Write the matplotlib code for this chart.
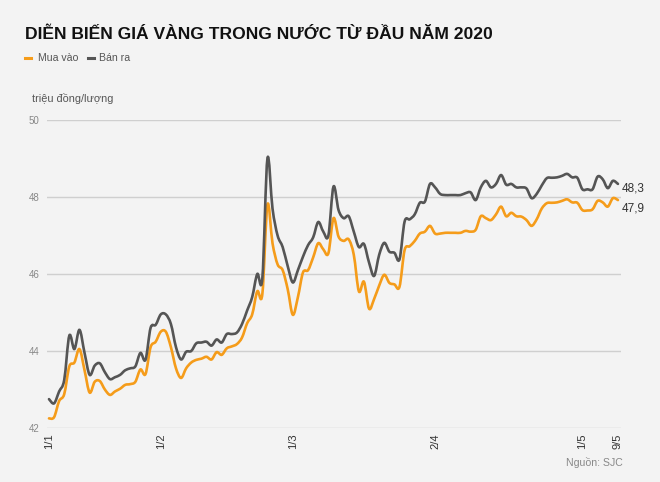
import matplotlib
matplotlib.use("Agg")
import matplotlib.pyplot as plt
from matplotlib.path import Path
from matplotlib.patches import PathPatch

plt.rcParams['font.family'] = ['Liberation Sans', 'DejaVu Sans']

tick_pos = [0, 22, 48, 76, 105, 112]
tick_labels = ["1/1", "1/2", "1/3", "2/4", "1/5", "9/5"]

ban_ra = [
    42.75, 42.64, 42.95, 43.25, 44.40, 44.05, 44.55, 43.95, 43.38, 43.62,
    43.68, 43.45, 43.27, 43.32, 43.38, 43.50, 43.55, 43.60, 43.95, 43.77,
    44.60, 44.68, 44.95, 44.95, 44.70, 44.10, 43.78, 43.98, 44.00, 44.20,
    44.22, 44.24, 44.14, 44.30, 44.22, 44.44, 44.44, 44.48, 44.70, 45.05,
    45.40, 46.00, 45.89, 49.00, 47.70, 47.00, 46.70, 46.20, 45.78, 46.10,
    46.45, 46.75, 46.95, 47.35, 47.10, 47.00, 48.27, 47.66, 47.45, 47.50,
    47.10, 46.70, 46.78, 46.30, 45.95, 46.50, 46.81, 46.58, 46.55, 46.38,
    47.36, 47.42, 47.55, 47.85, 47.88, 48.34, 48.25, 48.08, 48.05, 48.05,
    48.05, 48.05, 48.10, 48.12, 47.92, 48.25, 48.42, 48.25, 48.34, 48.57,
    48.32, 48.34, 48.25, 48.25, 48.22, 47.97, 48.08, 48.30, 48.49, 48.50,
    48.51, 48.55, 48.60, 48.51, 48.50, 48.20, 48.20, 48.20, 48.53, 48.46,
    48.23, 48.42, 48.34,
]

mua_vao = [
    42.25, 42.28, 42.70, 42.88, 43.60, 43.70, 44.05, 43.50, 42.92, 43.20,
    43.22, 43.00, 42.86, 42.95, 43.02, 43.12, 43.14, 43.20, 43.52, 43.40,
    44.10, 44.24, 44.50, 44.50, 44.10, 43.55, 43.30, 43.55, 43.70, 43.77,
    43.80, 43.85, 43.78, 43.97, 43.90, 44.07, 44.12, 44.18, 44.35, 44.72,
    44.95, 45.55, 45.48, 47.80, 46.80, 46.25, 46.10, 45.60, 44.94, 45.40,
    46.04, 46.10, 46.43, 46.80, 46.64, 46.54, 47.45, 46.97, 46.86, 46.90,
    46.50, 45.55, 45.80, 45.10, 45.35, 45.70, 45.98, 45.77, 45.73, 45.67,
    46.62, 46.72, 46.86, 47.05, 47.10, 47.25, 47.05, 47.05, 47.07, 47.07,
    47.07, 47.07, 47.12, 47.10, 47.15, 47.50, 47.45, 47.40, 47.55, 47.75,
    47.50, 47.59, 47.50, 47.49, 47.40, 47.25, 47.42, 47.70, 47.84, 47.85,
    47.86, 47.90, 47.94, 47.86, 47.85, 47.66, 47.65, 47.68, 47.90, 47.86,
    47.75, 47.97, 47.92,
]

y_ticks = [42, 44, 46, 48, 50]

W, H = 660, 482
BG = "#f3f3f3"
ORANGE = "#f59c1a"
GRAY = "#555555"


def smooth_path(xs, ys):
    """Catmull-Rom curve through the data points, as cubic Bezier segments."""
    n = len(xs)
    verts = [(xs[0], ys[0])]
    codes = [Path.MOVETO]
    for i in range(n - 1):
        x0, y0 = (xs[i - 1], ys[i - 1]) if i > 0 else (xs[i], ys[i])
        x1, y1 = xs[i], ys[i]
        x2, y2 = xs[i + 1], ys[i + 1]
        x3, y3 = (xs[i + 2], ys[i + 2]) if i + 2 < n else (x2, y2)
        c1 = (x1 + (x2 - x0) / 6, y1 + (y2 - y0) / 6)
        c2 = (x2 - (x3 - x1) / 6, y2 - (y3 - y1) / 6)
        verts += [c1, c2, (x2, y2)]
        codes += [Path.CURVE4] * 3
    return Path(verts, codes)


fig = plt.figure(figsize=(W / 100, H / 100), dpi=100, facecolor=BG)
ax = fig.add_axes([46.7 / W, 1 - 428 / H, (621 - 46.7) / W, (428 - 120) / H], facecolor=BG)

x = list(range(len(ban_ra)))
for ys, col, z in ((mua_vao, ORANGE, 3), (ban_ra, GRAY, 4)):
    ax.add_patch(PathPatch(smooth_path(x, ys), fill=False, edgecolor=col, lw=1.9,
                           joinstyle="round", capstyle="round", zorder=z, clip_on=False))

ax.set_xlim(-0.45, 112.6)
ax.set_ylim(42, 50)
ax.set_yticks(y_ticks)
ax.set_yticklabels([str(v) for v in y_ticks])
ax.set_xticks(tick_pos)
ax.set_xticklabels(tick_labels, rotation=90, va="top", ha="center")
ax.tick_params(axis="y", length=0, pad=5, labelsize=7, labelcolor="#888888")
ax.tick_params(axis="x", length=0, pad=4, labelsize=8, labelcolor="#333333")
ax.grid(axis="y", color="#cfcfcf", lw=1)
ax.grid(axis="x", visible=False)
for s in ax.spines.values():
    s.set_visible(False)

ax.annotate(f"{ban_ra[-1]:.1f}".replace(".", ","), (x[-1], ban_ra[-1]),
            xytext=(3, -3), textcoords="offset points", fontsize=8.5,
            color="#333333", va="center", ha="left", annotation_clip=False)
ax.annotate(f"{mua_vao[-1]:.1f}".replace(".", ","), (x[-1], mua_vao[-1]),
            xytext=(3, -6), textcoords="offset points", fontsize=8.5,
            color="#333333", va="center", ha="left", annotation_clip=False)

fig.text(25 / W, 1 - 39 / H, "DIỄN BIẾN GIÁ VÀNG TRONG NƯỚC TỪ ĐẦU NĂM 2020",
         fontsize=12.6, fontweight="bold", color="#111111", ha="left", va="baseline")

# legend
fig.lines.append(plt.Line2D([25 / W, 31 / W], [1 - 57.7 / H] * 2, transform=fig.transFigure,
                            color=ORANGE, lw=2.2))
fig.text(37.5 / W, 1 - 57.7 / H, "Mua vào", fontsize=7.6, color="#555555", ha="left", va="center")
fig.lines.append(plt.Line2D([88 / W, 94 / W], [1 - 57.7 / H] * 2, transform=fig.transFigure,
                            color=GRAY, lw=2.2))
fig.text(99 / W, 1 - 57.7 / H, "Bán ra", fontsize=7.6, color="#555555", ha="left", va="center")

fig.text(32 / W, 1 - 98 / H, "triệu đồng/lượng", fontsize=7.8, color="#555555", ha="left", va="center")
fig.text(623 / W, 1 - 462 / H, "Nguồn: SJC", fontsize=7.6, color="#888888", ha="right", va="center")

fig.savefig("out.png", dpi=100, facecolor=BG)
